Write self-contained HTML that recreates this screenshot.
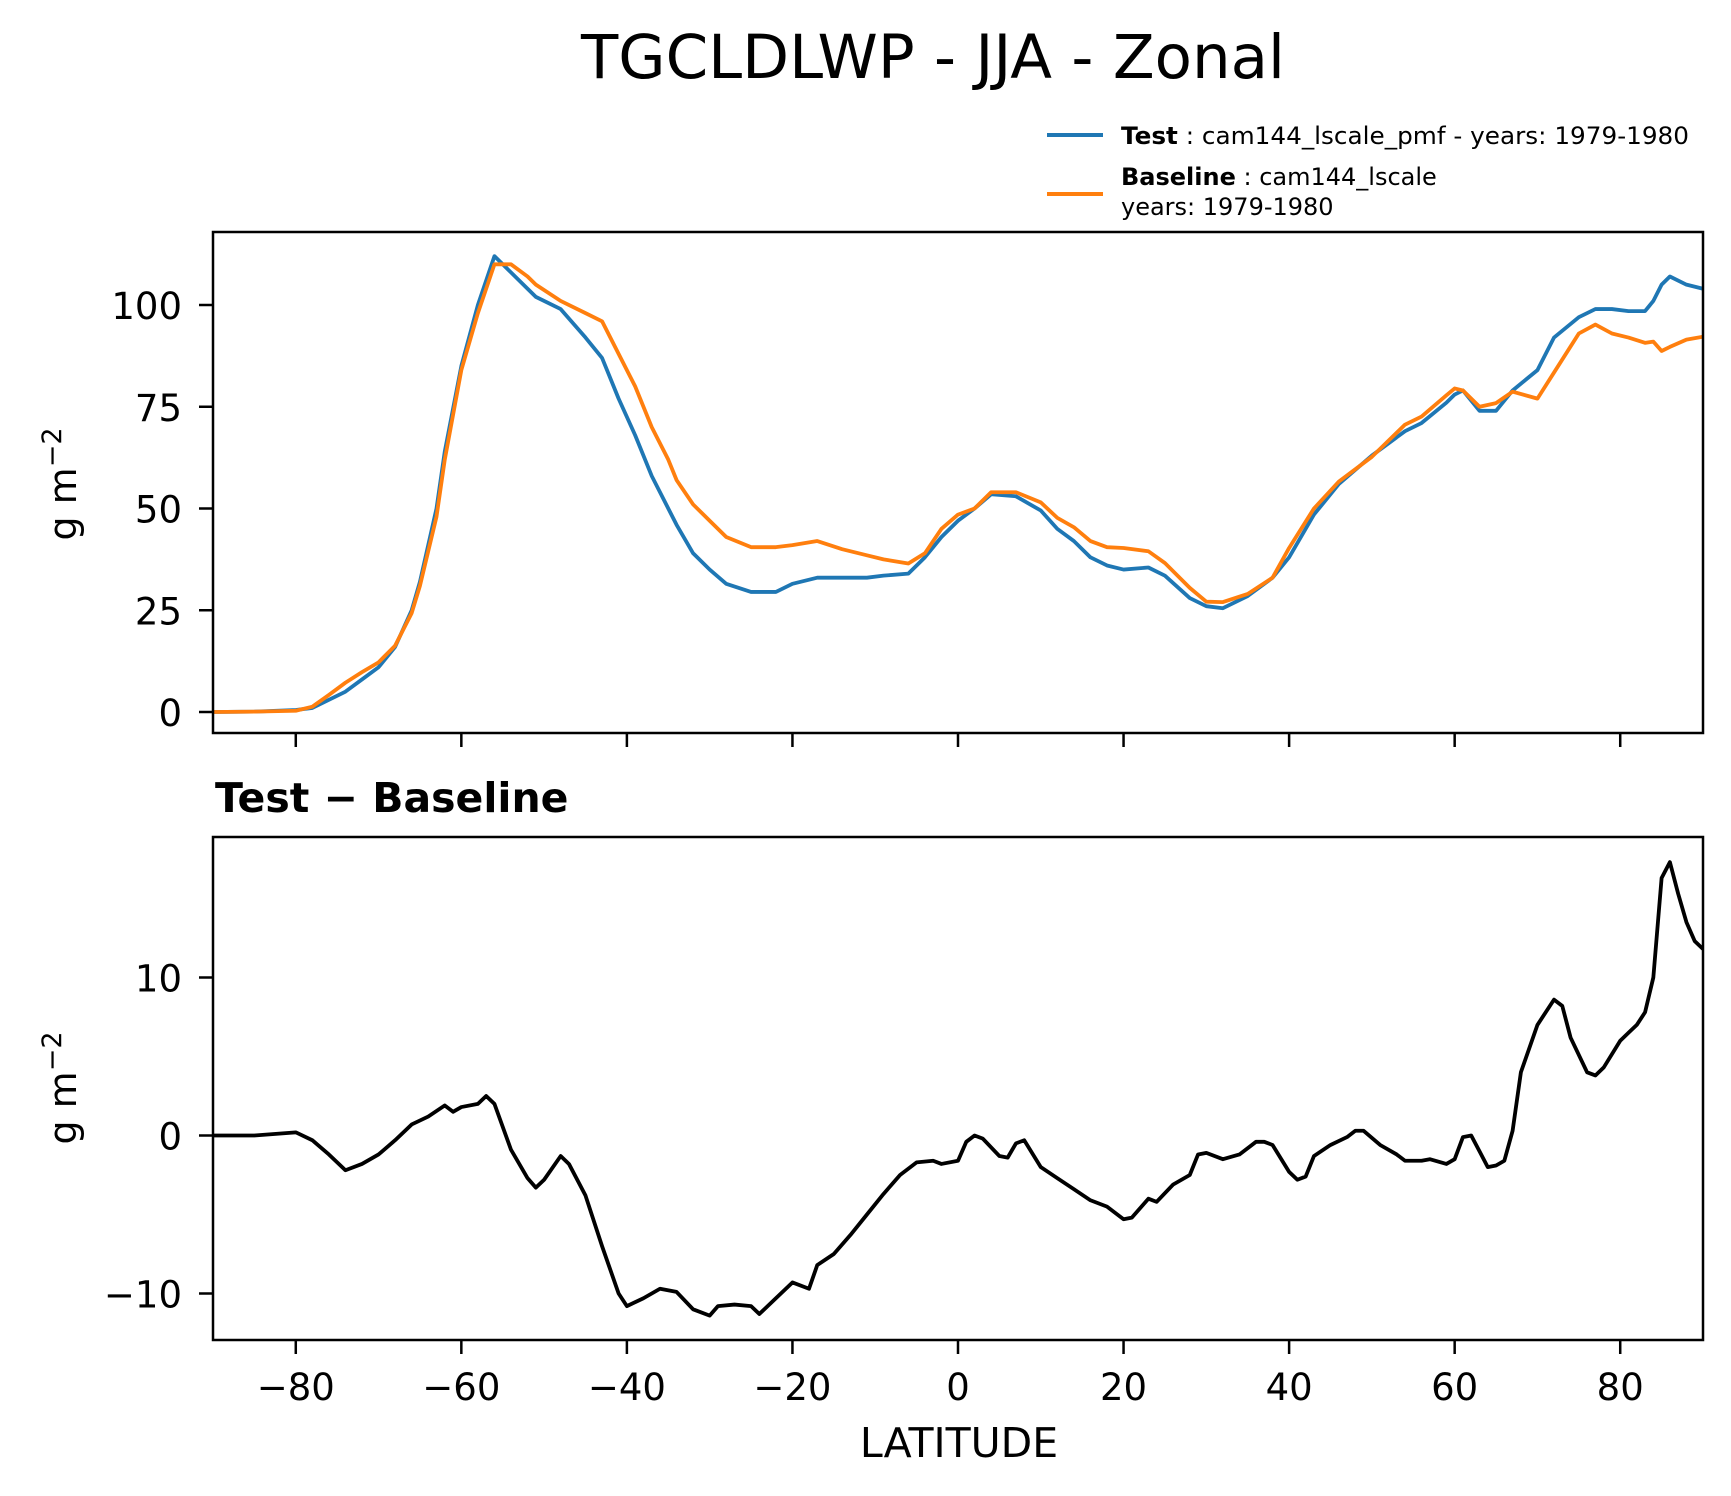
<!DOCTYPE html>
<html><head><meta charset="utf-8"><style>
body{margin:0;background:#fff}
svg{display:block;font-family:"DejaVu Sans","Liberation Sans",sans-serif}
</style></head><body>
<svg id="chart" width="1731" height="1496" viewBox="0 0 1731 1496">
<rect width="1731" height="1496" fill="#fff"/>
<text x="933" y="78" font-size="61" text-anchor="middle">TGCLDLWP - JJA - Zonal</text>
<g>
<line x1="1047" y1="135" x2="1103" y2="135" stroke="#1f77b4" stroke-width="4"/>
<text x="1121" y="144" font-size="24" textLength="568" lengthAdjust="spacingAndGlyphs"><tspan font-weight="bold">Test</tspan> : cam144_lscale_pmf - years: 1979-1980</text>
<line x1="1047" y1="194" x2="1103" y2="194" stroke="#ff7f0e" stroke-width="4"/>
<text x="1121" y="185" font-size="24"><tspan font-weight="bold">Baseline</tspan> : cam144_lscale</text>
<text x="1121" y="215" font-size="24">years: 1979-1980</text>
</g>
<text transform="translate(76,484) rotate(-90)" font-size="38" text-anchor="middle">g m<tspan dy="-15" font-size="27">−2</tspan></text>
<text transform="translate(76,1088) rotate(-90)" font-size="38" text-anchor="middle">g m<tspan dy="-15" font-size="27">−2</tspan></text>
<text x="215" y="812" font-size="41" font-weight="bold">Test − Baseline</text>
<text x="959" y="1457" font-size="41" text-anchor="middle">LATITUDE</text>
<g id="layer"></g>
</svg>
<script>
const lats = [-90,-85,-80,-78,-76,-74,-72,-70,-68,-66,-65,-63,-62,-60,-58,-56,-54,-52,-51,-48,-45,-43,-41,-39,-37,-35,-34,-32,-30,-28,-25,-22,-20,-17,-14,-11,-9,-6,-4,-2,0,2,4,7,10,12,14,16,18,20,23,25,28,30,32,35,38,40,43,46,50,54,56,59,60,61,63,65,67,70,72,75,77,79,81,83,84,85,86,88,90];
const testVals = [0,0.1,0.5,1,3,5,8,11,16,25,32,50,64,85,100,112,108,104,102,99,92,87,77,68,58,50,46,39,35,31.5,29.5,29.5,31.5,33,33,33,33.5,34,38,43,47,50,53.5,53,49.5,45,42,38,36,35,35.5,33.5,28,26,25.5,28.5,33,38,48.5,56,63,69,71,76,78,79,74,74,79,84,92,97,99,99,98.5,98.5,101,105,107,105,104];
const baseVals = [0,0.1,0.3,1.3,4.2,7.2,9.8,12.2,16.3,24.3,31,48,62,84,98,110,110,107,105,101,98,96,88,80,70,62,57,51,47,43,40.5,40.5,41,42,40,38.5,37.5,36.5,39,45,48.5,50,54,54,51.5,47.7,45.4,42,40.5,40.3,39.5,36.6,30.5,27.1,27,29,33,40.3,50,56.6,62.7,70.6,72.6,77.8,79.5,79,75,75.9,78.7,77,83.4,93,95.2,93,92,90.7,91,88.7,89.7,91.5,92.2];
const diffLats = [-90,-85,-80,-78,-76,-74,-72,-70,-68,-66,-64,-62,-61,-60,-58,-57,-56,-54,-52,-51,-50,-48,-47,-45,-43,-41,-40,-38,-36,-34,-32,-30,-29,-27,-25,-24,-22,-20,-18,-17,-15,-13,-11,-9,-7,-5,-3,-2,0,1,2,3,5,6,7,8,10,12,14,16,18,20,21,23,24,26,28,29,30,32,34,36,37,38,40,41,42,43,45,47,48,49,51,53,54,56,57,59,60,61,62,63,64,65,66,67,68,70,72,73,74,76,77,78,80,81,82,83,84,85,86,87,88,89,90];
const diffVals = [0,0,0.2,-0.3,-1.2,-2.2,-1.8,-1.2,-0.3,0.7,1.2,1.9,1.5,1.8,2,2.5,2,-0.9,-2.7,-3.3,-2.8,-1.3,-1.8,-3.8,-7,-10,-10.8,-10.3,-9.7,-9.9,-11,-11.4,-10.8,-10.7,-10.8,-11.3,-10.3,-9.3,-9.7,-8.2,-7.5,-6.3,-5,-3.7,-2.5,-1.7,-1.6,-1.8,-1.6,-0.4,0,-0.2,-1.3,-1.4,-0.5,-0.3,-2,-2.7,-3.4,-4.1,-4.5,-5.3,-5.2,-4,-4.2,-3.1,-2.5,-1.2,-1.1,-1.5,-1.2,-0.4,-0.4,-0.6,-2.3,-2.8,-2.6,-1.3,-0.6,-0.1,0.3,0.3,-0.6,-1.2,-1.6,-1.6,-1.5,-1.8,-1.5,-0.1,0,-1,-2,-1.9,-1.6,0.3,4,7,8.6,8.2,6.2,4,3.8,4.3,6,6.5,7,7.8,10,16.3,17.3,15.3,13.5,12.3,11.8];
const xTicks = [-80,-60,-40,-20,0,20,40,60,80];
const topYTicks = [0,25,50,75,100];
const botYTicks = [-10,0,10];

const NS='http://www.w3.org/2000/svg';
const layer=document.getElementById('layer');
const X0=213,X1=1703;
const xs=v=>X0+(v+90)/180*(X1-X0);
const topY=v=>712-v*4.07;
const botY=v=>1135.5-v*15.8;
function el(tag,attrs,parent){const e=document.createElementNS(NS,tag);for(const k in attrs)e.setAttribute(k,attrs[k]);(parent||layer).appendChild(e);return e;}
function panel(y0,y1,yf,ticks,name,showX){
  const g=el('g',{});
  
  
  const cp=el('clipPath',{id:name+'-clip'},g);
  el('rect',{x:X0,y:y0,width:X1-X0,height:y1-y0},cp);
  ticks.forEach(t=>{
    const y=yf(t);
    const l=el('line',{x1:X0-14,x2:X0,y1:y,y2:y,stroke:'#000','stroke-width':2.5},g);
    
    
    const tx=el('text',{x:X0-31,y:y+14,'font-size':37,'text-anchor':'end'},g);
    
    
    tx.textContent=String(t).replace('-','−');
  });
  xTicks.forEach(t=>{
    const x=xs(t);
    const l=el('line',{x1:x,x2:x,y1:y1,y2:y1+14,stroke:'#000','stroke-width':2.5},g);
    
    
    if(showX){
      const tx=el('text',{x:x,y:y1+60,'font-size':37,'text-anchor':'middle'},g);
      
      
      tx.textContent=String(t).replace('-','−');
    }
  });
  return g;
}
function line(g,xa,ya,yf,color,name,clip){
  const p=el('polyline',{points:xa.map((x,i)=>xs(x)+','+yf(ya[i])).join(' '),fill:'none',stroke:color,'stroke-width':3.8,'stroke-linejoin':'round','clip-path':'url(#'+clip+')'},g);
  
  
}
const gt=panel(232,733,topY,topYTicks,'top-panel',false);
line(gt,lats,testVals,topY,'#1f77b4','test-line','top-panel-clip');
line(gt,lats,baseVals,topY,'#ff7f0e','baseline-line','top-panel-clip');
const f1=el('rect',{x:X0,y:232,width:X1-X0,height:501,fill:'none',stroke:'#000','stroke-width':2.5},gt);


const gb=panel(837,1340,botY,botYTicks,'bottom-panel',true);
line(gb,diffLats,diffVals,botY,'#000','difference-line','bottom-panel-clip');
const f2=el('rect',{x:X0,y:837,width:X1-X0,height:503,fill:'none',stroke:'#000','stroke-width':2.5},gb);


</script>
</body></html>
